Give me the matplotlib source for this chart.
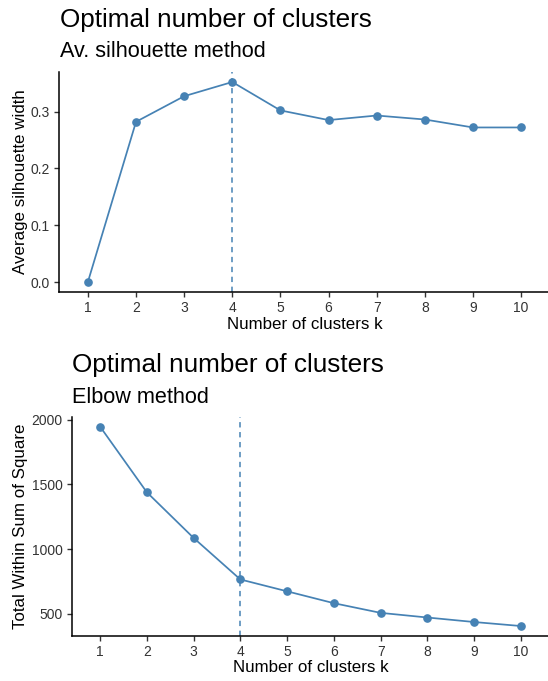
import matplotlib
matplotlib.use("Agg")
import matplotlib.pyplot as plt
from matplotlib.transforms import blended_transform_factory

plt.rcParams['font.family'] = ['Liberation Sans', 'DejaVu Sans']

k = [1, 2, 3, 4, 5, 6, 7, 8, 9, 10]
silhouette = [0.0, 0.282, 0.327, 0.352, 0.302, 0.285, 0.293, 0.286, 0.272, 0.272]
wss = [1949, 1440, 1086, 764, 672, 580, 505, 469, 434, 403]
optimal_k = 4
sil_yticks = [0.0, 0.1, 0.2, 0.3]
sil_yticklabels = ["0.0", "0.1", "0.2", "0.3"]
wss_yticks = [500, 1000, 1500, 2000]

color = "#4682B4"
W, H = 548, 681
fig = plt.figure(figsize=(W / 100, H / 100), dpi=100)

def style(ax, xlabel_top_px, ylabel_x_px):
    for s in ["top", "right"]:
        ax.spines[s].set_visible(False)
    for s in ["left", "bottom"]:
        ax.spines[s].set_linewidth(1.1)
        ax.spines[s].set_color("black")
    ax.tick_params(axis="both", direction="out", length=3.6, width=1.0,
                   labelsize=10, labelcolor="#333333", color="#333333", pad=3)
    ax.set_xticks(k)
    ax.set_xlim(0.4, 10.6)
    ax.xaxis.set_label_coords(0.5, 1 - xlabel_top_px / H,
                              transform=blended_transform_factory(ax.transAxes, fig.transFigure))
    ax.yaxis.set_label_coords(ylabel_x_px / W, 0.5,
                              transform=blended_transform_factory(fig.transFigure, ax.transAxes))

# Top panel
ax1 = fig.add_axes([59 / W, 1 - 292 / H, 491 / W, 220 / H])
ax1.plot(k, silhouette, color=color, lw=1.25, marker="o", ms=5.2, zorder=3)
ax1.axvline(optimal_k, color=color, ls=(0, (3.5, 3)), lw=1.1)
ax1.set_ylim(-0.0176, 0.3696)
ax1.set_yticks(sil_yticks)
ax1.set_yticklabels(sil_yticklabels)
ax1.set_ylabel("Average silhouette width", fontsize=12.2, color="black")
ax1.set_xlabel("Number of clusters k", fontsize=12.2, color="black")
style(ax1, 317, 28)
fig.text(60 / W, 1 - 27 / H, "Optimal number of clusters", fontsize=18.8, ha="left", va="baseline")
fig.text(60 / W, 1 - 57 / H, "Av. silhouette method", fontsize=15.6, ha="left", va="baseline")

# Bottom panel
ax2 = fig.add_axes([72 / W, 1 - 636 / H, 477 / W, 219.4 / H])
ax2.plot(k, wss, color=color, lw=1.25, marker="o", ms=5.2, zorder=3)
ax2.axvline(optimal_k, color=color, ls=(0, (3.5, 3)), lw=1.1)
ax2.set_ylim(325.7, 2026.3)
ax2.set_yticks(wss_yticks)
ax2.set_ylabel("Total Within Sum of Square", fontsize=12.2, color="black")
ax2.set_xlabel("Number of clusters k", fontsize=12.2, color="black")
style(ax2, 660, 28)
fig.text(72 / W, 1 - 372 / H, "Optimal number of clusters", fontsize=18.8, ha="left", va="baseline")
fig.text(72 / W, 1 - 403 / H, "Elbow method", fontsize=15.6, ha="left", va="baseline")

fig.savefig("out.png", dpi=100)
